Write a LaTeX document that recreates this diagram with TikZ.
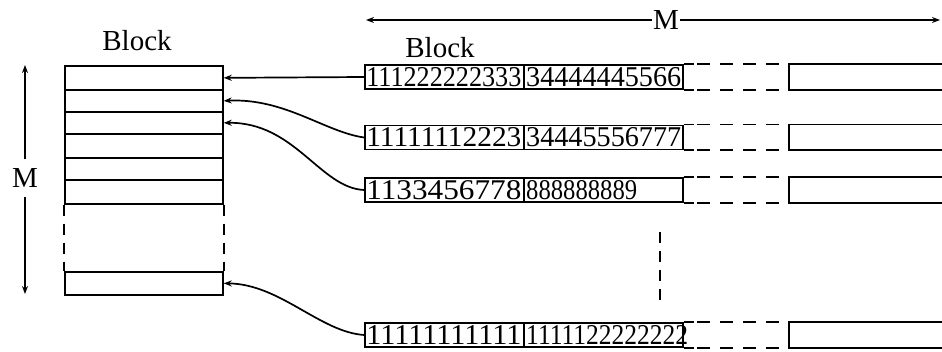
\documentclass[tikz,border=0pt]{standalone}
\usepackage{fontspec}
\usepackage{graphicx}
\setmainfont{Liberation Serif}
\usetikzlibrary{arrows.meta,calc}
\begin{document}
\begin{tikzpicture}[x=1pt,y=-1pt,
  ln/.style={line width=1.7pt},
  dsh/.style={ln, dash pattern=on 11pt off 8pt},
  rowdsh/.style={ln, dash pattern=on 13pt off 10pt},
  tip/.style={ln, -{Stealth[length=8pt,width=6pt]}},
  cell/.style={draw, ln, minimum width=158pt, minimum height=#1, inner sep=0pt, anchor=north west},
  lbl/.style={font=\fontsize{29}{29}\selectfont, inner sep=1pt},
  digits/.style={inner sep=0pt, anchor=west},
  rowbox/.style={draw, ln, minimum width=318pt, minimum height=24pt, inner sep=0pt},
]
% canvas
\fill[white] (0,0) rectangle (942,352);
\useasboundingbox (0,0) rectangle (942,352);

% ---- memory block on the left ----
\node[cell=24pt] (c1) at (64,65) {};
\node[cell=22pt] (c2) at (64,89) {};
\node[cell=22pt] (c3) at (64,111) {};
\node[cell=24pt] (c4) at (64,133) {};
\node[cell=22pt] (c5) at (64,157) {};
\node[cell=24pt] (c6) at (64,179) {};
\node[cell=23pt] (c7) at (64,271) {};
\draw[dsh] (c6.south west) -- (c7.north west);
\draw[dsh] (c6.south east) -- (c7.north east);
\node[lbl] (bl) at (137,41) {Block};

% vertical size marker
\node[lbl, inner ysep=9pt] (ms) at (25,178) {M};
\coordinate (msT) at (25,65);
\coordinate (msB) at (25,294);
\draw[tip] (ms.north) -- (msT);
\draw[tip] (ms.south) -- (msB);

% ---- rows on the right ----
\node[rowbox] (row1) at (524,77) {};
\node[rowbox] (row2) at (524,137.5) {};
\node[rowbox] (row3) at (524,190) {};
\node[rowbox] (row4) at (524,335) {};
\coordinate (edge) at (942,0);

\foreach \n in {1,...,4}{
  \draw[ln] (row\n.north) -- (row\n.south);
  \draw[ln] (row\n.north east) -- ++(10,0) coordinate (ta\n);
  \draw[ln] (row\n.south east) -- ++(10,0) coordinate (ba\n);
  \draw[rowdsh] (ta\n) ++(3,0) -- ++(84,0);
  \draw[rowdsh] (ba\n) ++(3,0) -- ++(84,0);
  \coordinate (tb\n) at ($(row\n.north east)+(105,0)$);
  \coordinate (bb\n) at ($(row\n.south east)+(105,0)$);
  \draw[ln] (edge |- tb\n) -- (tb\n) -- (bb\n) -- (edge |- bb\n);
}

% row contents
\node[digits] (d1a) at ($(row1.west)+(2,0)$) {\resizebox{155pt}{19pt}{111222222333}};
\node[digits] (d1b) at ($(row1.center)+(2,0)$) {\resizebox{155pt}{19pt}{34444445566}};
\node[digits] (d2a) at ($(row2.west)+(2,0)$) {\resizebox{155pt}{19pt}{11111112223}};
\node[digits] (d2b) at ($(row2.center)+(2,0)$) {\resizebox{155pt}{19pt}{34445556777}};
\node[digits] (d3a) at ($(row3.west)+(2,0)$) {\resizebox{155pt}{19pt}{1133456778}};
\node[digits] (d3b) at ($(row3.center)+(2,0)$) {\resizebox{111pt}{19pt}{888888889}};
\node[digits] (d4a) at ($(row4.west)+(2,0)$) {\resizebox{155pt}{19pt}{11111111111}};
\node[digits] (d4b) at ($(row4.center)+(2,0)$) {\resizebox{162pt}{19pt}{1111122222222}};

\node[lbl] (br) at (440,48) {Block};

% continuation marker between rows
\coordinate (v1) at (660,232);
\coordinate (v2) at (660,302);
\draw[dsh] (v1) -- (v2);

% horizontal size marker
\node[lbl] (mt) at (666,20) {M};
\coordinate (mtl) at (366,20);
\coordinate (mtr) at (940,20);
\draw[tip] (mt.west) -- (mtl);
\draw[tip] (mt.east) -- (mtr);

% ---- rows mapped into the block ----
\draw[tip] (row1.west) -- (c1.east);
\draw[tip] (row2.west) .. controls (325,132) and (285,98) .. (c2.east);
\draw[tip] (row3.west) .. controls (320,188) and (295,122) .. (c3.east);
\draw[tip] (row4.west) .. controls (320,332) and (280,284) .. (c7.east);
\end{tikzpicture}
\end{document}
